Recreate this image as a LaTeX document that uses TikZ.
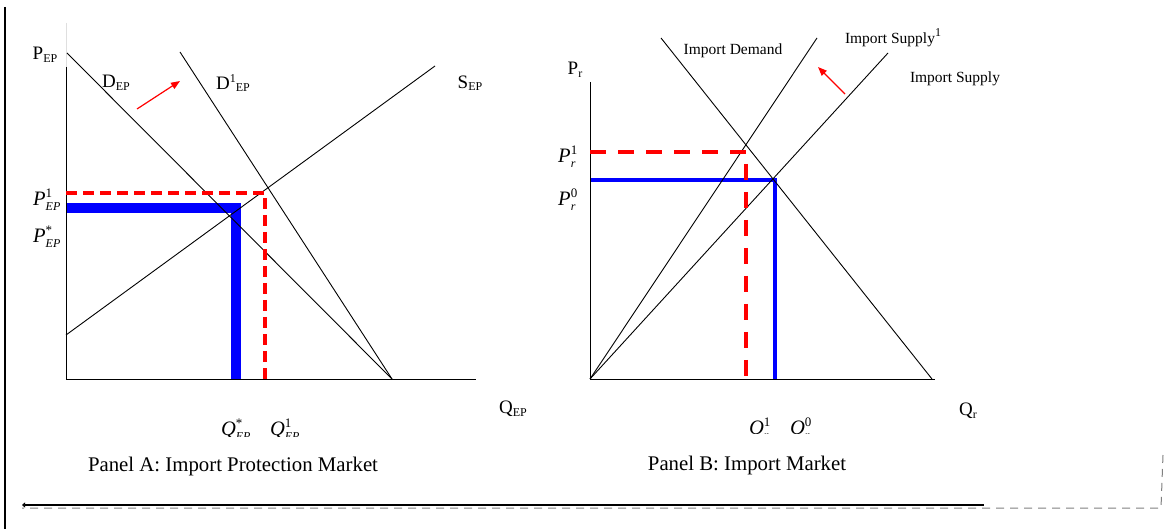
\documentclass[tikz,border=0pt]{standalone}
\usepackage{fontspec}
\setmainfont{Liberation Serif}
\usetikzlibrary{arrows.meta,positioning}

% small scripts for the axis and curve labels
\newcommand{\lo}[1]{\raisebox{-2.5pt}{\fontsize{12}{12}\selectfont #1}}
\newcommand{\hi}[1]{\raisebox{7pt}{\fontsize{12}{12}\selectfont #1}}
\newcommand{\itl}[3]{\textit{#1}$^{\mbox{\fontsize{13}{13}\selectfont #2}}_{\mbox{\fontsize{12}{12}\selectfont\itshape #3}}$}

\begin{document}
\begin{tikzpicture}[
  x=1pt, y=-1pt,
  crv/.style={line width=0.9pt},
  axis/.style={line width=0.9pt},
  lab/.style={font=\fontsize{19}{22}\selectfont, inner sep=0pt},
  ilab/.style={font=\fontsize{20.5}{22}\selectfont, inner sep=0pt},
  tag/.style={font=\fontsize{15.5}{18}\selectfont, inner sep=0pt},
  panel/.style={font=\fontsize{20.8}{24}\selectfont, inner sep=0pt},
  newprice/.style={red, line width=4.5pt},
  oldprice/.style={blue, line join=miter},
  move/.style={red, line width=1.2pt, -{Triangle[length=9pt,width=7pt]}}
]
\useasboundingbox (0,0) rectangle (1165,529);
\draw[line width=2.2pt] (5,7) -- (5,529);

% Panel A
\coordinate (topA) at (66,23);
\coordinate (yA) at (66,67);
\coordinate (oA) at (66,379);
\coordinate (xA) at (476,379);
\coordinate (dem0) at (67,53);
\coordinate (dem1) at (180,52);
\coordinate (demEnd) at (392,379);
\coordinate (sup0) at (66,335);
\coordinate (sup1) at (435,66);
\coordinate (pStar) at (66,208);
\coordinate (qStar) at (236,379);
\coordinate (pOne) at (66,193);
\coordinate (qOne) at (265,379);
\draw[oldprice, line width=10pt] (pStar) -- (pStar -| qStar) -- (qStar);
\draw[gray!25, line width=0.6pt] (topA) -- (yA);
\draw[axis] (yA) -- (oA) -- (xA);
\draw[crv] (dem0) -- (demEnd);
\draw[crv] (dem1) -- (demEnd);
\draw[crv] (sup0) -- (sup1);
\draw[newprice, dash pattern=on 11pt off 6pt] (pOne) -- (pOne -| qOne) -- (qOne);
\draw[move] (137,109) -- (180,81);

\node[lab] (pEP) at (45,55) {P\lo{EP}};
\node[lab] (dEP) at (116,83) {D\lo{EP}};
\node[lab] (d1EP) at (233,83) {D\hi{1}\lo{EP}};
\node[lab] (sEP) at (470,83) {S\lo{EP}};
\node[ilab] (p1EP) at (47,200) {\itl{P}{1}{EP}};
\node[ilab] (psEP) at (47,237) {\itl{P}{*}{EP}};
\node[lab] (qEP) at (513,409) {Q\lo{EP}};
\begin{scope}
  \clip (200,400) rectangle (330,436);
  \node[ilab] (qsEP) at (236,430) {\itl{Q}{*}{EP}};
  \node[ilab] (q1EP) at (285,430) {\itl{Q}{1}{EP}};
\end{scope}
\node[panel] (capA) at (233,466) {Panel A: Import Protection Market};

% Panel B
\coordinate (yB) at (590,82);
\coordinate (oB) at (590,379);
\coordinate (xB) at (935,379);
\coordinate (impD0) at (661,38);
\coordinate (impD1) at (932,379);
\coordinate (impS1) at (817,38);
\coordinate (impS0) at (888,53);
\coordinate (pr0) at (590,180);
\coordinate (qr0) at (775,379);
\coordinate (pr1) at (590,152);
\coordinate (qr1) at (746,379);
\draw[oldprice, line width=3.5pt] (pr0) -- (pr0 -| qr0) -- (qr0);
\draw[axis] (yB) -- (oB) -- (xB);
\draw[crv] (impD0) -- (impD1);
\draw[crv] (oB) -- (impS1);
\draw[crv] (oB) -- (impS0);
\draw[newprice, dash pattern=on 16pt off 12pt] (pr1) -- (pr1 -| qr1) -- (qr1);
\draw[move] (845,94) -- (818,67);

\node[lab] (pR) at (575,70) {P\lo{r}};
\node[ilab] (pR1) at (568,157) {\itl{P}{1}{r}};
\node[ilab] (pR0) at (568,200) {\itl{P}{0}{r}};
\node[tag] (dLab) at (733,51) {Import Demand};
\node[tag] (s1Lab) at (893,38) {Import Supply\hi{1}};
\node[tag] (sLab) at (955,79) {Import Supply};
\node[lab] (qR) at (968,411) {Q\lo{r}};
\begin{scope}
  \clip (730,400) rectangle (830,433);
  \node[ilab] (qR1) at (760,429) {\itl{Q}{1}{r}};
  \node[ilab] (qR0) at (801,429) {\itl{Q}{0}{r}};
\end{scope}
\node[panel] (capB) at (747,465) {Panel B: Import Market};

% frame at the bottom
\coordinate (lineL) at (22,505);
\coordinate (lineR) at (984,505);
\coordinate (dashL) at (22,508);
\coordinate (dashC) at (1161,508);
\coordinate (dashT) at (1163,455);
\draw[line width=1.3pt, {Triangle[length=3pt,width=5pt]}-] (lineL) -- (lineR);
\draw[gray, line width=1pt, dash pattern=on 8pt off 6pt] (dashT) -- (dashC) -- (dashL);
\end{tikzpicture}
\end{document}
